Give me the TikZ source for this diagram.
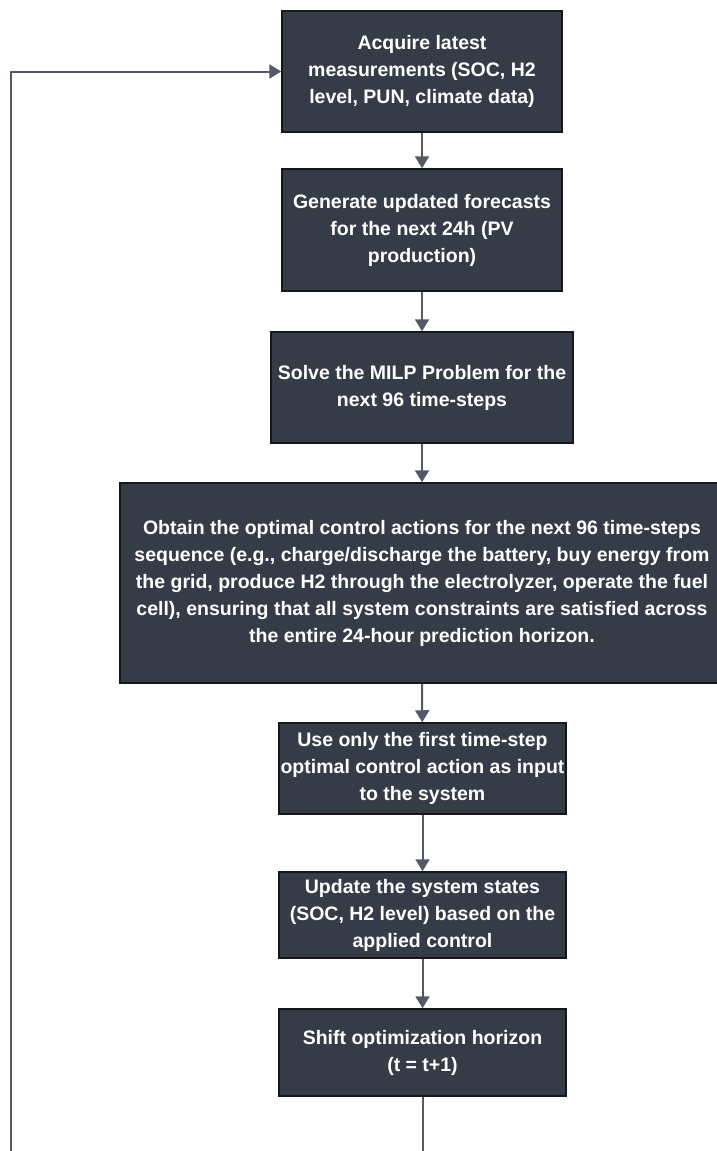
\documentclass[tikz,border=0pt]{standalone}
\usepackage{fontspec}
\setmainfont{Liberation Sans}
\usetikzlibrary{arrows.meta}

\definecolor{boxfill}{HTML}{363C47}
\definecolor{boxline}{HTML}{15171B}
\definecolor{flowgray}{HTML}{535A66}

\tikzset{
  procbox/.style={draw=boxline,line width=1.5pt,fill=boxfill,text=white,
    font=\bfseries\fontsize{19.5}{27}\selectfont,align=center,inner sep=0pt},
  flow/.style={draw=flowgray,line width=2pt,-{Triangle[width=14pt,length=12pt]}},
}

\begin{document}
\begin{tikzpicture}[x=1pt,y=-1pt]
  \useasboundingbox (0,0) rectangle (717,1151);
  \node[procbox,minimum width=280pt,minimum height=121pt] (acquire) at (422,71.5)
    {Acquire latest\\measurements (SOC, H2\\level, PUN, climate data)};
  \node[procbox,minimum width=280pt,minimum height=122pt] (forecast) at (422,230)
    {Generate updated forecasts\\for the next 24h (PV\\production)};
  \node[procbox,minimum width=302pt,minimum height=111pt] (solve) at (422,387.5)
    {Solve the MILP Problem for the\\next 96 time-steps};
  \node[procbox,minimum width=604pt,minimum height=200pt] (obtain) at (422,583)
    {Obtain the optimal control actions for the next 96 time-steps\\
     sequence (e.g., charge/discharge the battery, buy energy from\\
     the grid, produce H2 through the electrolyzer, operate the fuel\\
     cell), ensuring that all system constraints are satisfied across\\
     the entire 24-hour prediction horizon.};
  \node[procbox,minimum width=287pt,minimum height=91pt] (useonly) at (422.5,768.5)
    {Use only the first time-step\\optimal control action as input\\to the system};
  \node[procbox,minimum width=287pt,minimum height=86pt] (update) at (422.5,915)
    {Update the system states\\(SOC, H2 level) based on the\\applied control};
  \node[procbox,minimum width=287pt,minimum height=87pt] (shift) at (422.5,1052.5)
    {Shift optimization horizon\\(t = t+1)};

  \coordinate (shiftend) at (422.5,1151);
  \coordinate (loopend) at (11,1151);

  \draw[flow] (acquire) -- (forecast);
  \draw[flow] (forecast) -- (solve);
  \draw[flow] (solve) -- (obtain.north -| solve.south);
  \draw[flow] (obtain.south -| solve.south) -- (useonly);
  \draw[flow] (useonly) -- (update);
  \draw[flow] (update) -- (shift);
  \draw[flowgray,line width=2pt] (shift) -- (shiftend);
  \draw[flow] (loopend) |- (acquire.west);
\end{tikzpicture}
\end{document}
